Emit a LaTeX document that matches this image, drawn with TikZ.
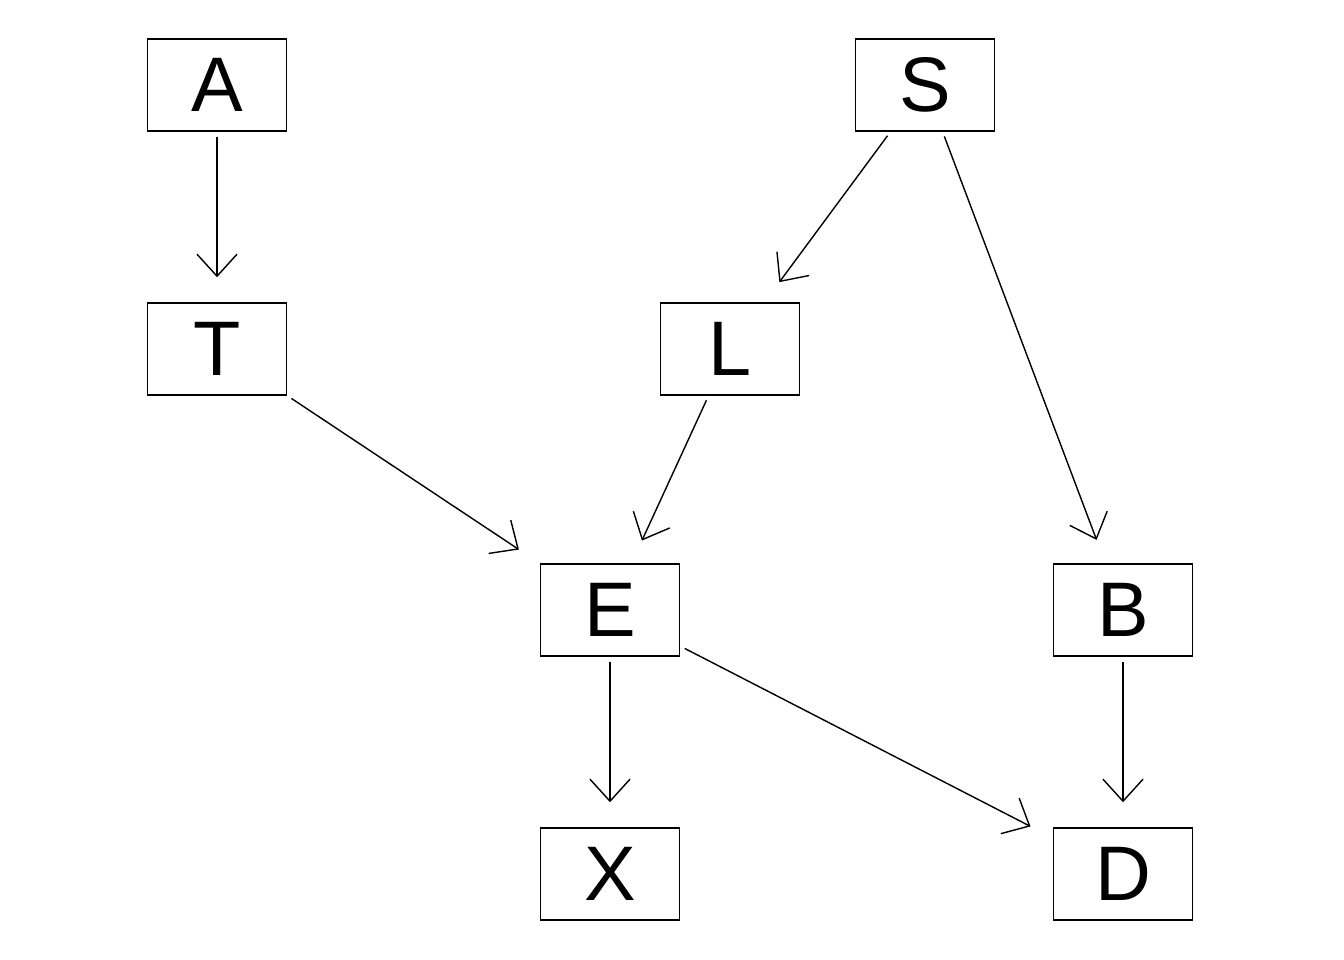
\documentclass[tikz,border=0pt]{standalone}
\usepackage{fontspec}
\setmainfont{Liberation Sans}
\usetikzlibrary{arrows.meta}
\tikzset{
    % open arrow heads, as in the plot
    >={Straight Barb[length=2.2mm,width=4mm]},
    var/.style={draw, thin, minimum width=13.9mm, minimum height=9.2mm,
        inner sep=0, font=\fontsize{22}{26}\selectfont},
    edge/.style={->, thin, shorten <=0.5mm, shorten >=2.5mm},
}
\begin{document}
\begin{tikzpicture}[x=0.01cm, y=-0.01cm]
\useasboundingbox (0,0) rectangle (1344,960);

% Nodes
\node [var] (A) at (217,85) {A};
\node [var] (S) at (925,85) {S};
\node [var] (T) at (217,349) {T};
\node [var] (L) at (730,349) {L};
\node [var] (E) at (610,610) {E};
\node [var] (B) at (1123,610) {B};
\node [var] (X) at (610,874) {X};
\node [var] (D) at (1123,874) {D};

% Edges
\foreach \a/\b in {A/T, S/L, S/B, T/E, L/E, E/X, E/D, B/D}
    \draw [edge] (\a) -- (\b);

\end{tikzpicture}
\end{document}
